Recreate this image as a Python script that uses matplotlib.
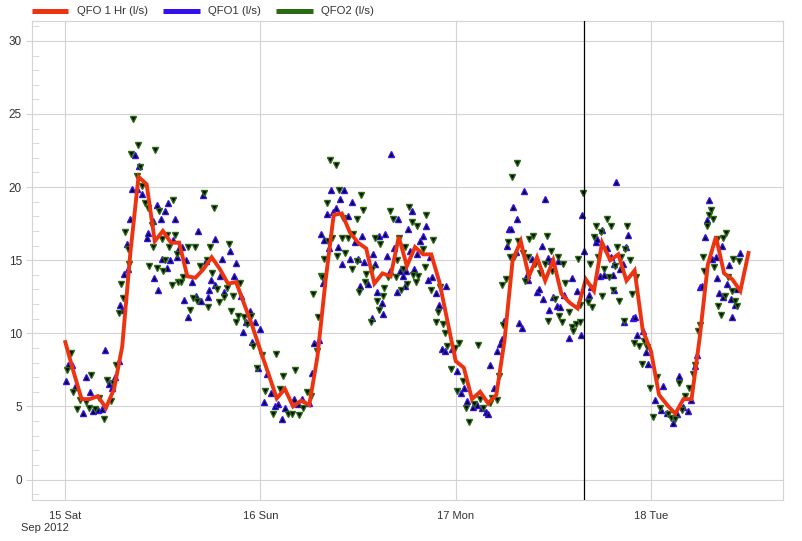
import matplotlib

matplotlib.use("Agg")
import matplotlib.pyplot as plt
import pandas as pd
from matplotlib.lines import Line2D
from matplotlib.ticker import MultipleLocator

plt.rcParams["font.family"] = ["Liberation Sans", "DejaVu Sans"]

START = pd.Timestamp("2012-09-15 00:00")
NOW_HOURS = 63.8  # black "now" marker line

# hourly mean (red line), one value per hour from 15 Sep 00:00
qfo_1hr = [9.4, 7.4, 5.5, 5.5, 5.7, 4.9, 6.2, 9.1, 15.5, 20.7, 20.2, 16.3, 17.0, 16.2, 16.2,
           13.9, 13.8, 14.4, 15.2, 14.4, 13.4, 13.5, 12.0, 10.5, 8.8, 7.2, 5.55, 6.2, 5.0, 5.4,
           5.1, 8.4, 13.6, 18.1, 18.2, 16.9, 16.2, 15.8, 13.4, 14.1, 13.9, 16.6, 14.6, 15.9,
           15.4, 15.4, 13.5, 10.8, 8.1, 7.65, 5.5, 6.0, 5.2, 5.8, 9.5, 15.0, 16.3, 13.9, 15.2,
           13.6, 15.0, 12.7, 12.1, 11.7, 13.7, 12.9, 16.2, 15.0, 15.4, 13.6, 14.3, 10.2, 8.8,
           5.8, 5.1, 4.5, 5.5, 5.5, 9.7, 14.7, 16.6, 14.1, 13.7, 12.9, 15.5]

# QFO1 samples: hours after 15 Sep 00:00 and l/s
qfo1_hours = [0.09, 0.37, 0.78, 1.19, 2.2, 2.6, 3.04, 3.45, 4.06, 4.5, 4.92, 5.4, 5.78, 6.1, 6.56,
              6.7, 6.97, 7.22, 7.55, 7.75, 7.96, 8.2, 8.61, 8.86, 9.1, 9.39, 10.0, 10.21, 10.74,
              10.95, 11.24, 11.44, 11.72, 11.89, 12.2, 12.46, 12.67, 12.9, 13.2, 13.45, 13.69,
              13.94, 14.39, 14.6, 14.84, 15.13, 15.54, 16.07, 16.36,
              16.68, 16.97, 17.34, 17.5, 17.71, 17.91, 18.4, 18.4, 19.02, 19.31, 19.55, 20.25,
              20.78, 20.99, 21.6, 21.89, 22.18, 22.71, 23.0, 23.32, 23.73, 23.98, 24.47, 24.8,
              25.25, 25.78, 26.19, 26.69, 27.01, 28.08, 28.57, 29.06, 30.0, 30.29, 30.62, 31.19,
              31.44, 31.69, 31.85, 32.22, 32.46, 32.67, 32.92,
              33.28, 33.57, 33.77, 34.06, 34.27, 34.8, 35.0, 35.29, 35.62, 36.03, 36.23, 36.52,
              36.77, 37.26, 37.67, 37.87, 38.07, 38.36, 38.61, 38.9, 39.1, 39.31, 39.6, 39.92,
              40.08, 40.45, 40.74, 40.95, 41.15, 41.48, 41.77, 41.89, 42.18, 42.38, 42.59, 42.87,
              43.29, 43.61, 43.94, 44.35, 44.63, 44.84, 45.05, 45.58, 45.99, 46.27, 46.68, 46.81,
              47.5, 48.12, 48.61, 49.02, 49.43,
              50.17, 50.58, 51.19, 51.68, 51.93, 52.22, 52.75, 53.12, 53.45, 53.73, 53.94, 54.27,
              54.59, 54.8, 55.09, 55.37, 55.58, 55.82, 56.19, 56.44, 56.72, 56.93, 57.34, 57.95,
              58.24, 58.57, 58.77, 58.98, 59.31, 59.51, 59.72, 60.0, 60.41, 60.62, 60.82, 61.31,
              61.97, 62.26, 62.87, 63.36, 63.49, 63.81, 64.39, 64.64, 65.21, 65.41, 65.74, 65.95,
              66.23, 66.64, 67.05, 67.3, 67.46, 67.46, 67.71, 68.2, 68.54, 68.69, 68.94, 69.23,
              69.76, 70.05, 70.33, 71.07, 71.36, 71.69, 72.5, 73.2, 73.53, 73.94, 74.67, 75.17,
              75.5, 75.99, 76.52, 76.89, 77.42, 77.63, 78.04, 78.24, 78.65, 78.94, 79.19, 79.47,
              80.0, 80.17, 80.41, 80.7, 81.32, 80.9, 81.6, 81.81, 82.01, 82.34, 82.55, 82.96]
qfo1_vals = [6.72, 7.82, 7.82, 6.33, 4.53, 7.0, 6.01, 4.69, 4.76, 4.8, 8.85, 6.5, 6.29, 7.04, 8.12,
             11.93, 11.6, 14.06, 16.1, 14.4, 17.83, 19.84, 22.18, 19.84, 21.44, 19.55, 16.5, 16.87,
             17.65, 13.76, 18.75, 12.96, 17.83, 15.09, 18.38, 14.5, 18.93, 15.0, 16.35, 17.83, 15.2,
             15.82, 15.89, 12.3, 15.04, 11.13, 13.49, 12.53, 16.99,
             12.23, 19.43, 14.93, 12.46, 12.96, 13.65, 16.46, 13.33, 13.94, 15.09, 12.8, 15.66,
             13.94, 14.84, 12.57, 10.12, 10.74, 11.5, 9.41, 10.78, 7.61, 10.28, 5.3, 7.2,
             5.92, 5.03, 5.14, 4.11, 4.87, 5.49, 5.14, 5.49, 5.26, 7.31, 9.37, 9.55,
             16.8, 13.42, 16.39, 18.13, 15.84, 19.82, 18.29,
             18.59, 15.93, 19.2, 14.74, 19.82, 17.99, 15.08, 18.97, 16.23, 15.08, 13.21, 16.69,
             14.9, 13.37, 11.08, 15.43, 14.74, 12.8, 16.69, 12.05, 11.31, 16.76, 15.31, 14.29,
             22.24, 15.84, 12.8, 17.85, 14.29, 13.9, 13.26, 14.29, 17.14, 15.66, 18.35, 14.4,
             15.43, 16.34, 16.69, 17.37, 13.65, 15.2, 13.83, 12.73, 11.93, 8.91, 8.8, 13.21,
             8.91, 7.42, 5.94, 6.28, 5.37,
             4.95, 5.09, 4.87, 4.64, 4.46, 7.83, 6.28, 8.8, 9.26, 9.6, 10.81, 16.0,
             17.14, 17.14, 18.63, 15.54, 17.83, 10.69, 10.39, 19.73, 14.0, 13.65, 15.08, 12.8,
             13.03, 16.0, 12.34, 19.2, 15.15, 11.59, 14.93, 12.46, 11.89, 14.93, 11.77, 12.64,
             9.67, 13.78, 12.91, 9.9, 18.06, 15.61, 12.64, 13.19, 16.23, 16.46, 13.94, 17.08,
             14.01, 15.84, 15.25, 14.01, 14.74, 12.96, 20.34, 14.4, 14.74, 10.74, 15.88, 16.73,
             11.08, 11.15, 9.89, 10.17, 8.73, 7.88, 5.41, 4.73, 6.4, 4.57, 3.88, 4.5,
             7.08, 4.96, 4.69, 5.41, 7.77, 8.53, 13.14, 13.26, 16.62, 17.76, 19.13, 15.08,
             15.25, 13.78, 12.73, 16.0, 13.37, 12.5, 14.69, 12.34, 11.13, 11.95, 13.03, 15.5]

# QFO2 samples
qfo2_hours = [0.25, 0.66, 0.99, 1.48, 1.8, 2.54, 2.87, 3.16, 3.65, 4.18, 4.8, 5.17, 5.58, 5.9, 6.23,
              6.64, 6.89, 7.14, 7.38, 7.67, 7.87, 8.12, 8.36, 8.77, 8.98, 9.22, 9.47, 9.8, 10.13,
              10.34, 10.62, 10.82, 11.07, 11.3, 11.52, 11.85, 12.05, 12.3, 12.54, 12.79, 13.08,
              13.28, 13.53, 13.69, 13.9, 14.18, 14.51, 15.04, 15.33, 15.66, 15.95, 16.23,
              16.56, 17.05, 17.38, 17.59, 17.79, 18.08, 18.32, 18.61, 18.9, 19.55, 19.84, 20.17,
              20.37, 20.66, 20.95, 21.28, 21.48, 22.01, 22.3, 22.83, 23.12, 23.53, 24.23, 24.55,
              25.58, 25.91, 26.4, 26.81, 27.42, 27.92, 28.24, 28.77, 29.27, 29.68, 30.21, 30.5,
              30.91, 31.03, 31.4, 31.6, 31.85, 32.14, 32.34, 32.55, 32.75,
              33.24, 33.45, 33.65, 33.98, 34.18, 34.39, 34.8, 35.21, 35.41, 35.82, 35.91, 36.15,
              36.36, 36.64, 36.85, 36.97, 37.55, 37.67, 38.07, 38.28, 38.61, 38.69, 39.02, 39.18,
              39.72, 39.92, 40.33, 40.66, 40.74, 41.07, 41.23, 41.48, 41.77, 42.05, 42.3, 42.59,
              42.8, 43.12, 43.29, 43.41, 43.99, 44.22, 44.31, 44.92, 45.25, 45.58, 45.86, 46.07,
              46.4, 46.68, 46.97, 47.38, 47.91, 48.21, 48.45, 48.86, 49.27, 49.67,
              50.29, 50.7, 50.99, 51.4, 52.22, 52.5, 53.04, 53.37, 53.65, 53.86, 54.14, 54.47,
              54.68, 54.96, 55.21, 55.5, 55.7, 56.32, 56.52, 56.85, 57.05, 57.55, 57.75, 58.36,
              58.98, 59.18, 59.39, 59.71, 59.88, 60.21, 60.53, 60.7, 61.03, 61.23, 61.44, 61.93,
              62.26, 62.46, 62.75, 63.0, 63.28, 63.28, 63.69, 64.3, 64.51, 64.8, 65.04, 65.25,
              65.54, 66.03,
              65.86, 66.23, 66.56, 66.89, 67.05, 67.38, 67.59, 67.87, 68.12, 68.28, 68.69, 68.82,
              69.1, 69.43, 69.63, 69.92, 70.17, 70.58, 70.87, 71.15, 71.48, 71.89, 72.22, 72.79,
              73.12, 74.14, 74.43, 74.96, 75.5, 75.79, 76.2, 76.73, 77.13, 77.42, 77.75, 78.04,
              78.36, 78.53, 78.86, 79.19, 79.35, 79.59, 79.76, 80.09, 80.29, 80.58, 80.82, 81.11,
              81.23, 81.52, 81.93, 82.13, 82.34, 82.63, 82.87]
qfo2_vals = [7.48, 8.62, 5.99, 4.85, 5.42, 5.33, 4.92, 7.18, 4.85, 5.58, 4.16, 6.81, 5.35, 6.63, 7.86,
             11.39, 13.37, 12.39, 16.92, 15.77, 14.75, 22.24, 24.69, 20.74, 22.91, 21.35, 20.07,
             18.93, 18.59, 14.63, 17.38, 15.93, 22.52, 14.45, 18.34, 16.46, 14.29, 15.04, 16.74,
             15.91, 13.33, 19.14, 16.74, 15.45, 13.49, 13.53, 13.83, 15.91, 11.59, 12.39, 15.91, 12.23,
             14.63, 19.61, 15.02, 11.82, 15.88, 14.11, 18.59, 13.03, 12.16, 12.46, 13.1, 16.11,
             11.55, 12.57, 10.78, 11.2, 13.44, 11.13, 10.62, 11.2, 9.14, 7.61, 8.52, 6.06,
             4.5, 8.57, 6.17, 7.08, 4.5, 4.46, 7.47, 4.41, 4.91, 6.01, 5.72, 12.69,
             8.8, 11.09, 13.94, 13.83, 15.09, 18.9, 16.34, 21.83, 16.52,
             21.49, 15.31, 19.77, 16.52, 17.9, 15.47, 16.52, 14.4, 16.76, 14.97, 17.83, 12.8,
             19.49, 18.4, 13.49, 14.06, 10.74, 14.4, 16.52, 12.23, 11.61, 16.11, 12.57, 13.1,
             13.83, 18.35, 17.83, 13.83, 15.02, 16.52, 12.96, 14.4, 15.88, 13.37, 18.63, 17.6,
             14.01, 13.49, 17.37, 13.94, 15.77, 14.56, 18.12, 12.96, 16.39, 10.74, 11.43, 13.19,
             10.62, 10.05, 9.14, 7.59, 9.03, 6.06, 9.37, 6.74, 4.87, 3.95,
             5.14, 9.21, 5.48, 4.87, 5.25, 5.6, 5.41, 7.08, 13.3, 10.58, 13.71, 16.23,
             15.24, 20.69, 15.2, 21.65, 16.3, 15.47, 13.6, 15.24, 16.46, 16.69, 14.74, 14.1,
             14.74, 16.69, 10.86, 15.66, 14.24, 12.34, 15.24, 11.2, 10.74, 14.74, 13.42, 11.43,
             10.4, 10.17, 10.67, 15.08, 10.74, 11.96, 19.59, 12.11, 14.74, 11.77, 16.62, 17.37,
             15.24, 12.57,
             16.92, 14.4, 17.83, 13.87, 17.37, 12.96, 14.63, 15.88, 12.18, 15.25, 10.81, 15.77,
             17.37, 15.02, 12.69, 9.37, 13.87, 9.14, 7.93, 9.49, 9.07, 6.28, 4.27, 7.01,
             4.87, 4.46, 4.23, 4.11, 6.63, 4.73, 5.71, 6.24, 7.24, 7.84, 10.17, 10.58,
             15.25, 14.24, 17.37, 18.06, 18.4, 17.83, 14.56, 16.46, 11.89, 11.27, 16.53, 12.57,
             16.85, 13.87, 12.91, 15.08, 12.18, 11.89, 14.93]

day_labels = ["15 Sat", "16 Sun", "17 Mon", "18 Tue"]

RED = "#ee3311"
BLUE = "#3311ee"
GREEN = "#2a6a10"
GRID = "#d3d3d3"
TEXT = "#333333"


def to_time(hours):
    return START + pd.to_timedelta(pd.Series(hours), unit="h")


W, H = 803, 541
fig = plt.figure(figsize=(W / 100, H / 100), dpi=100)
ax = fig.add_axes([31.7 / W, 40.7 / H, (783.3 - 31.7) / W, (500.3 - 21) / H])

ax.plot(to_time(qfo1_hours), qfo1_vals, ls="none", marker="^", ms=5.0,
        mfc="black", mec=BLUE, mew=1.0, zorder=3)
ax.plot(to_time(qfo2_hours), qfo2_vals, ls="none", marker="v", ms=5.0,
        mfc="black", mec=GREEN, mew=1.0, zorder=3)
ax.plot(to_time(range(len(qfo_1hr))), qfo_1hr, color=RED, lw=2.8, zorder=4,
        solid_joinstyle="miter")
ax.axvline(START + pd.Timedelta(hours=NOW_HOURS), color="black", lw=0.9, zorder=5)

ax.set_xlim(START - pd.Timedelta(hours=4.13), START + pd.Timedelta(hours=88.28))
ax.set_ylim(-1.42, 31.36)

day_ticks = [START + pd.Timedelta(days=i) for i in range(len(day_labels))]
ax.set_xticks(day_ticks)
ax.set_xticklabels(day_labels)
ax.yaxis.set_major_locator(MultipleLocator(5))
ax.yaxis.set_minor_locator(MultipleLocator(1))

ax.grid(True, which="major", color=GRID, lw=0.8)
ax.set_axisbelow(True)
for s in ax.spines.values():
    s.set_color(GRID)
    s.set_linewidth(0.8)

ax.tick_params(axis="x", length=0, pad=8, labelsize=8, labelcolor=TEXT)
ax.tick_params(axis="y", which="major", direction="out", length=4.5, color=GRID,
               pad=2.5, labelsize=8.5, labelcolor=TEXT)
ax.tick_params(axis="y", which="minor", direction="in", length=4.7, color=GRID)

fig.text(21 / W, 1 - 528 / H, "Sep 2012", fontsize=8, color=TEXT, ha="left", va="center")

# legend strip above the plot, drawn by hand
leg_y = 1 - 10.8 / H
for x0, x1, tx, col, label in [(31.7, 68.3, 77.3, RED, "QFO 1 Hr (l/s)"),
                               (162.7, 200, 208.3, BLUE, "QFO1 (l/s)"),
                               (275.7, 313.3, 321, GREEN, "QFO2 (l/s)")]:
    fig.add_artist(Line2D([x0 / W, x1 / W], [leg_y, leg_y], color=col, lw=3.6,
                          solid_capstyle="butt", transform=fig.transFigure))
    fig.text(tx / W, leg_y, label, fontsize=8.2, color=TEXT, ha="left", va="center")

fig.savefig("out.png", dpi=100, facecolor="white")
